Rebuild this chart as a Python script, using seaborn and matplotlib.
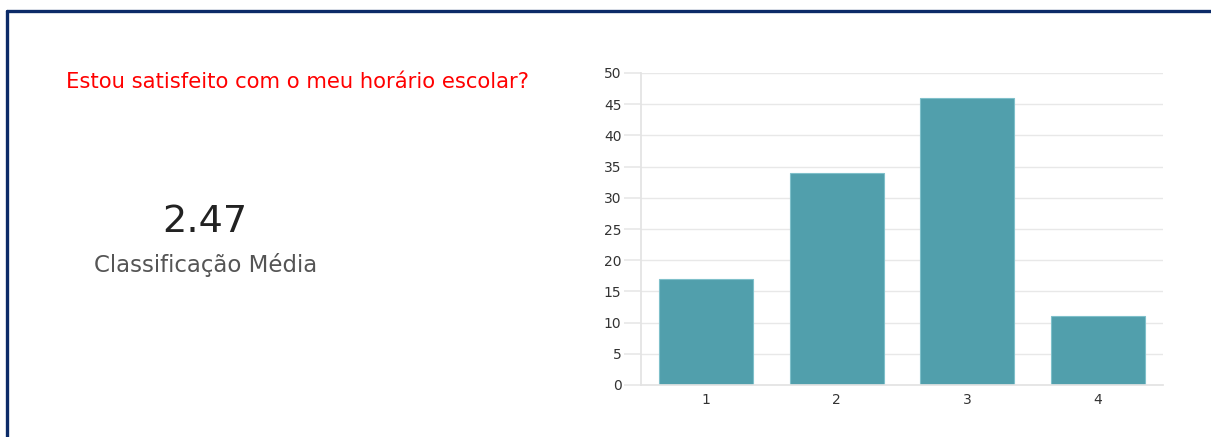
import matplotlib
matplotlib.use("Agg")
import matplotlib.pyplot as plt
from matplotlib.lines import Line2D
import seaborn as sns
import pandas as pd

categories = ["1", "2", "3", "4"]
counts = [17, 34, 46, 11]
y_ticks = [0, 5, 10, 15, 20, 25, 30, 35, 40, 45, 50]
question = "Estou satisfeito com o meu horário escolar?"
average_value = "2.47"
average_label = "Classificação Média"

sns.set_theme(style="white")
plt.rcParams['font.family'] = ['DejaVu Sans']

df = pd.DataFrame({"cat": categories, "n": counts})

fig = plt.figure(figsize=(12.11, 4.37), dpi=100)
ax = fig.add_axes([641/1211, 1 - 385/437, (1163-641)/1211, (385-73)/437])

sns.barplot(data=df, x="cat", y="n", color="#519FAC", saturation=1, width=0.72,
            edgecolor="#7fc0ca", linewidth=0.8, ax=ax)

ax.set_ylim(0, 50)
ax.set_yticks(y_ticks)
ax.set_xlabel("")
ax.set_ylabel("")
ax.grid(axis="y", color="#e8e8e8", linewidth=1)
ax.set_axisbelow(True)
for s in ["top", "right"]:
    ax.spines[s].set_visible(False)
ax.spines["left"].set_color("#e3e3e3")
ax.spines["bottom"].set_color("#e3e3e3")
ax.tick_params(axis="y", length=12, color="#e8e8e8", labelsize=10, labelcolor="#333333", pad=2, left=True)
ax.tick_params(axis="x", length=0, labelsize=10, labelcolor="#333333", pad=6)

fig.text(66/1211, 1 - 82/437, question, color="#ff0000", fontsize=15.2, va="center", ha="left")
fig.text(205/1211, 1 - 222/437, average_value, color="#222222", fontsize=27.5, va="center", ha="center")
fig.text(206/1211, 1 - 265/437, average_label, color="#555555", fontsize=16.5, va="center", ha="center")

navy = "#0c2b68"
fig.add_artist(Line2D([7/1211, 1], [1 - 11/437, 1 - 11/437], color=navy, linewidth=2.4, transform=fig.transFigure))
fig.add_artist(Line2D([7/1211, 7/1211], [0, 1 - 11/437], color=navy, linewidth=2.4, transform=fig.transFigure))

fig.savefig("out.png", dpi=100)
